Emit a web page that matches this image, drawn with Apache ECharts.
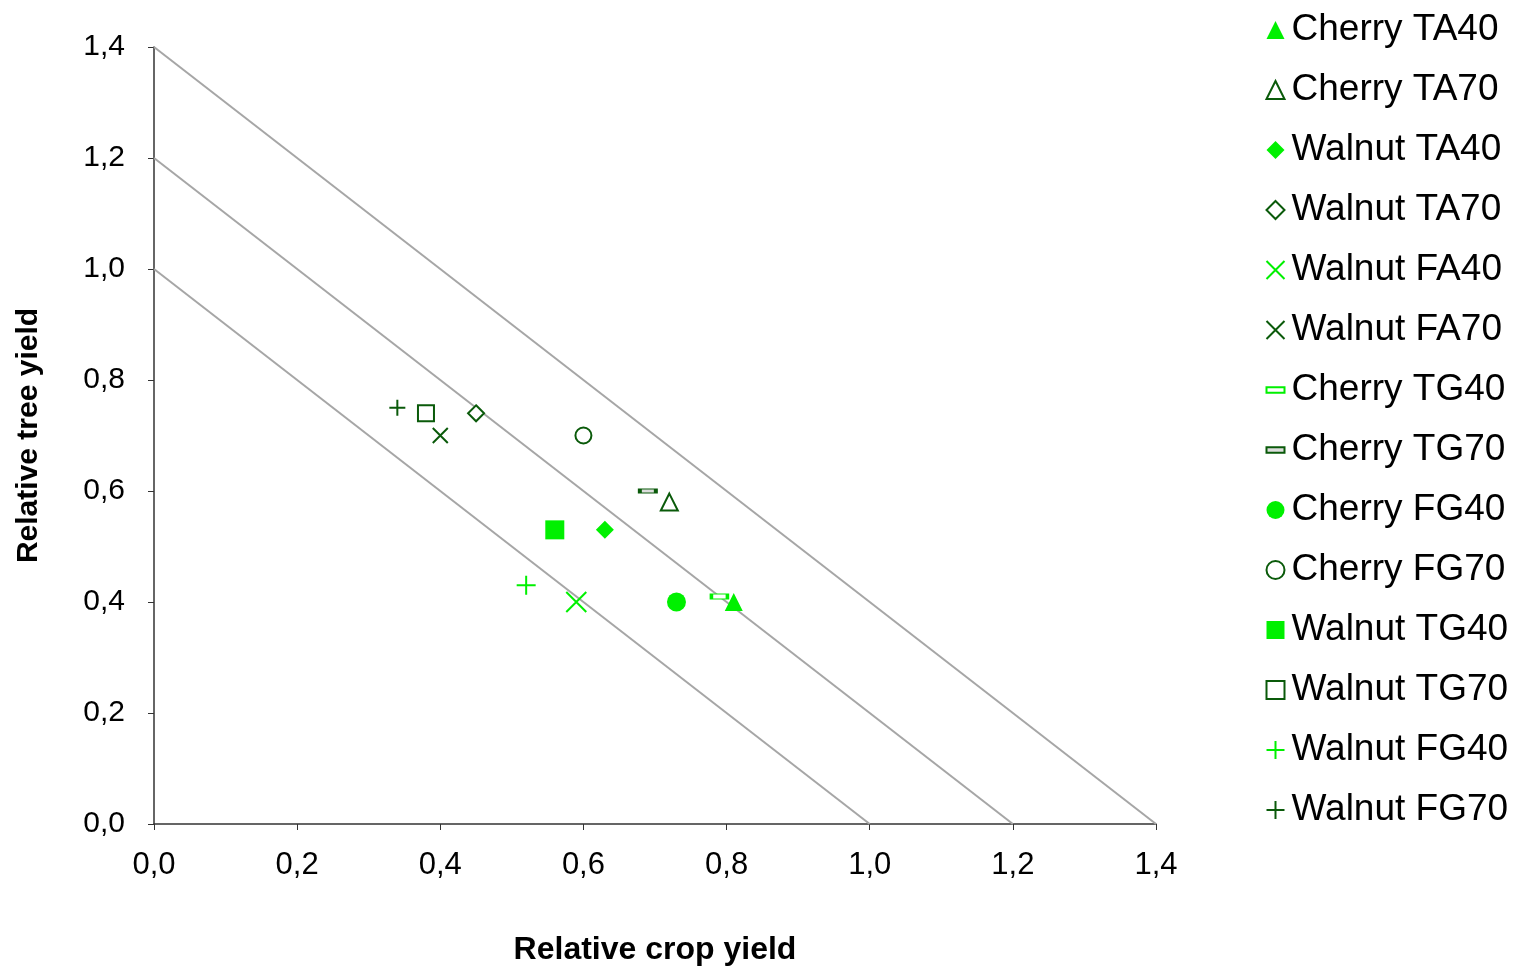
<!DOCTYPE html>
<html><head><meta charset="utf-8">
<script src="https://cdn.jsdelivr.net/npm/echarts@6/dist/echarts.min.js"></script>
<style>html,body{margin:0;padding:0;background:#fff}#c{width:1517px;height:968px}</style>
</head><body><div id="c"></div>
<script>
const seriesNames = ['Cherry TA40','Cherry TA70','Walnut TA40','Walnut TA70','Walnut FA40','Walnut FA70','Cherry TG40','Cherry TG70','Cherry FG40','Cherry FG70','Walnut TG40','Walnut TG70','Walnut FG40','Walnut FG70'];
const cropYield = [0.81,0.72,0.63,0.45,0.59,0.40,0.79,0.69,0.73,0.60,0.56,0.38,0.52,0.34];
const treeYield = [0.40,0.58,0.53,0.74,0.40,0.70,0.41,0.60,0.40,0.70,0.53,0.74,0.43,0.75];
const lerTotals = [1.0,1.2,1.4];
const tickLabels = ['0,0','0,2','0,4','0,6','0,8','1,0','1,2','1,4'];

const BRIGHT = '#00f000', DARK = '#0a5a0a';
const CROSS = 'path://M0,0L10,10M10,0L0,10';
const PLUS = 'path://M5,0L5,10M0,5L10,5';
const DASH = 'path://M0,0L16,0L16,5L0,5Z';
const styles = [
  {symbol:'triangle', size:18, fill:BRIGHT, stroke:BRIGHT, w:0},
  {symbol:'triangle', size:17, fill:'#fff', stroke:DARK, w:2},
  {symbol:'diamond', size:18, fill:BRIGHT, stroke:BRIGHT, w:0},
  {symbol:'diamond', size:16, fill:'#fff', stroke:DARK, w:2},
  {symbol:CROSS, size:20, fill:'none', stroke:BRIGHT, w:2},
  {symbol:CROSS, size:15, fill:'none', stroke:DARK, w:2},
  {symbol:'rect', size:[16,5], fill:'#fff', stroke:BRIGHT, w:2, icon:DASH},
  {symbol:'rect', size:[16,4], fill:'#ddd', stroke:DARK, w:2, icon:DASH},
  {symbol:'circle', size:19, fill:BRIGHT, stroke:BRIGHT, w:0},
  {symbol:'circle', size:16, fill:'#fff', stroke:DARK, w:2},
  {symbol:'rect', size:19, fill:BRIGHT, stroke:BRIGHT, w:0},
  {symbol:'rect', size:16, fill:'#fff', stroke:DARK, w:2},
  {symbol:PLUS, size:19, fill:'none', stroke:BRIGHT, w:2},
  {symbol:PLUS, size:16, fill:'none', stroke:DARK, w:2}
];

const series = [];
lerTotals.forEach(t => {
  series.push({type:'line', data:[[0,t],[t,0]], showSymbol:false, silent:true,
    lineStyle:{color:'#a6a6a6', width:2}, z:1});
});
seriesNames.forEach((n,i) => {
  const s = styles[i];
  series.push({type:'scatter', name:n, data:[[cropYield[i], treeYield[i]]],
    symbol:s.symbol, symbolSize:s.size, z:3,
    itemStyle:{color:s.fill, borderColor:s.stroke, borderWidth:s.w, opacity:1}});
});
const legendData = seriesNames.map((n,i) => styles[i].icon ? {name:n, icon:styles[i].icon} : {name:n});

const FONT = 'Liberation Sans, Arial';
const chart = echarts.init(document.getElementById('c'));
chart.setOption({
  animation:false,
  backgroundColor:'#fff',
  grid:{left:154, right:361, top:47, bottom:144, outerBoundsMode:'none', containLabel:false},
  legend:{orient:'vertical', left:1259, top:5, itemGap:20, itemWidth:18, itemHeight:18,
    data:legendData,
    textStyle:{fontFamily:FONT, fontSize:37, color:'#000', lineHeight:40, padding:[0,0,0,2]}},
  xAxis:{type:'value', min:0, max:1.4, interval:0.2,
    name:'Relative crop yield', nameLocation:'middle', nameGap:110,
    nameTextStyle:{fontFamily:FONT, fontSize:32, fontWeight:'bold', color:'#000'},
    axisLine:{show:true, lineStyle:{color:'#333', width:1.5}},
    axisTick:{show:true, length:6, lineStyle:{color:'#333'}},
    splitLine:{show:false},
    axisLabel:{margin:26, fontFamily:FONT, fontSize:31, color:'#000',
      formatter:(v)=>tickLabels[Math.round(v/0.2)]}},
  yAxis:{type:'value', min:0, max:1.4, interval:0.2,
    name:'Relative tree yield', nameLocation:'middle', nameGap:110,
    nameTextStyle:{fontFamily:FONT, fontSize:30, fontWeight:'bold', color:'#000'},
    axisLine:{show:true, lineStyle:{color:'#333', width:1.5}},
    axisTick:{show:true, length:6, lineStyle:{color:'#333'}},
    splitLine:{show:false},
    axisLabel:{margin:29, fontFamily:FONT, fontSize:30, color:'#000',
      formatter:(v)=>tickLabels[Math.round(v/0.2)]}},
  series:series
});
</script></body></html>
